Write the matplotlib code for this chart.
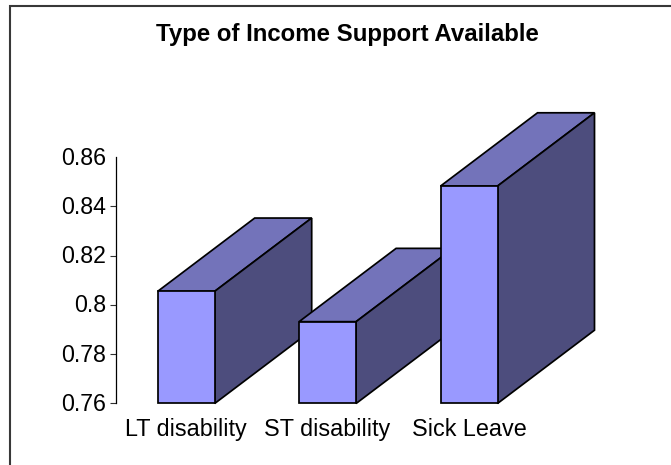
import matplotlib
matplotlib.use("Agg")
import matplotlib.pyplot as plt
from matplotlib.patches import Polygon
from matplotlib.lines import Line2D
from matplotlib.transforms import ScaledTranslation

categories = ["LT disability", "ST disability", "Sick Leave"]
values = [0.8055, 0.7932, 0.8482]
y_ticks = [0.76, 0.78, 0.80, 0.82, 0.84, 0.86]
y_tick_labels = ["0.76", "0.78", "0.8", "0.82", "0.84", "0.86"]
title = "Type of Income Support Available"

W, H = 671, 465
plt.rcParams["font.family"] = ["Liberation Sans", "DejaVu Sans"]
fig = plt.figure(figsize=(W / 100, H / 100), dpi=100, facecolor="white")

band = 141.4
left, bottom_px, top_px = 115.5, 403.5, 157.0
ax = fig.add_axes([left / W, 1 - bottom_px / H, 3 * band / W, (bottom_px - top_px) / H])
ax.set_xlim(-0.5, 2.5)
ax.set_ylim(0.76, 0.86)
ax.patch.set_alpha(0)

bar_w = 57 / band
dx = 97 / band
dy = 73.3 / (bottom_px - top_px) * 0.10
base = 0.76
edge = dict(edgecolor="black", linewidth=1.25, joinstyle="miter", clip_on=False)

for i, v in enumerate(values):
    x0, x1 = i - bar_w / 2, i + bar_w / 2
    ax.add_patch(Polygon([(x0, v), (x1, v), (x1 + dx, v + dy), (x0 + dx, v + dy)],
                         facecolor="#7373BA", **edge))
    ax.add_patch(Polygon([(x1, base), (x1 + dx, base + dy), (x1 + dx, v + dy), (x1, v)],
                         facecolor="#4D4D7D", **edge))
    ax.add_patch(Polygon([(x0, base), (x1, base), (x1, v), (x0, v)],
                         facecolor="#9999FF", **edge))

for s in ("top", "right", "bottom"):
    ax.spines[s].set_visible(False)
ax.spines["left"].set_linewidth(0.9)
ax.set_yticks(y_ticks, y_tick_labels, fontsize=16.7, color="black")
ax.tick_params(axis="y", length=4.5, width=0.8, pad=2.5, color="#303030")
ax.yaxis.get_major_ticks()[-1].tick1line.set_visible(False)
shift = ScaledTranslation(0, 1.5 / 100, fig.dpi_scale_trans)
for lab in ax.get_yticklabels():
    lab.set_transform(lab.get_transform() + shift)
ax.set_xticks(range(3), categories, fontsize=16.8, color="black")
ax.tick_params(axis="x", length=0, pad=10.5)

fig.text(347 / W, 1 - 35 / H, title, ha="center", va="center", fontsize=17.3, fontweight="bold")

fig.add_artist(Line2D([10 / W, 10 / W, 1.0], [0, 1 - 6 / H, 1 - 6 / H],
                      color="#383838", linewidth=1.5, transform=fig.transFigure,
                      solid_joinstyle="miter"))
fig.savefig("out.png", dpi=100)
